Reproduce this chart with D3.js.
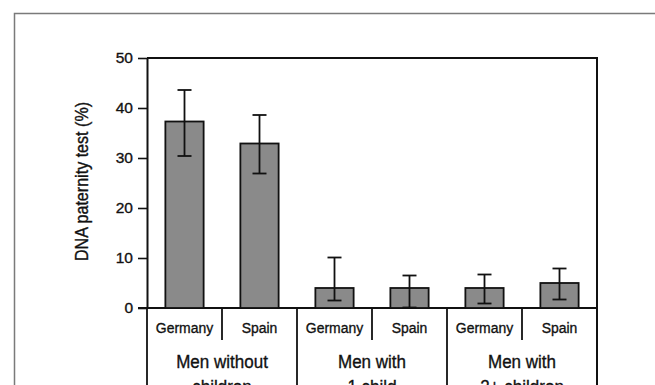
<!DOCTYPE html>
<html>
<head>
<meta charset="utf-8">
<script src="https://cdn.jsdelivr.net/npm/d3@7"></script>
<style>
  html, body { margin: 0; padding: 0; background: #fff; }
  svg { display: block; }
  text { font-family: "Liberation Sans", Arial, sans-serif; fill: #111; stroke: #111; stroke-width: 0.35px; }
</style>
</head>
<body>
<svg id="chart" width="655" height="385"></svg>
<script>
// Groups of men and the countries within each group
const groups = [["Men without", "children"], ["Men with", "1 child"], ["Men with", "2+ children"]];
const countries = ["Germany", "Spain"];

// Percentage requesting a DNA paternity test, with error bar bounds
const means = [37.3, 32.9, 4.0, 4.0, 4.0, 5.0];
const upper = [43.6, 38.6, 10.1, 6.5, 6.7, 7.9];
const lower = [30.4, 26.9, 1.5, 0.1, 0.9, 1.7];

const yTicks = [0, 10, 20, 30, 40, 50];

const rows = [];
groups.forEach((g, gi) => countries.forEach((c, ci) => {
  const i = gi * countries.length + ci;
  rows.push({ key: i, group: gi, country: c, value: means[i], hi: upper[i], lo: lower[i] });
}));

const svg = d3.select("#chart");
const plot = { left: 147, right: 597, top: 58, bottom: 308 };

// Outer frame
svg.append("path")
  .attr("d", `M14.5,385 V13.5 H655`)
  .attr("fill", "none").attr("stroke", "#7a7a7a").attr("stroke-width", 1.5);

const x = d3.scaleBand()
  .domain(rows.map(d => d.key))
  .range([plot.left, plot.right])
  .paddingInner(0.49).paddingOuter(0.245);

const slot = d3.scaleBand()
  .domain(rows.map(d => d.key))
  .range([plot.left, plot.right]);

const y = d3.scaleLinear().domain([0, 50]).range([plot.bottom, plot.top]);

// Narrow-looking text: Liberation Sans squeezed along its baseline
function label(parent, tx, ty, str, size, squeeze, rotate) {
  return parent.append("text")
    .attr("transform", `translate(${tx},${ty})${rotate ? ` rotate(${rotate})` : ""} scale(${squeeze},1)`)
    .attr("text-anchor", "middle")
    .attr("font-size", size)
    .text(str);
}

// Y axis
const yAxis = svg.append("g")
  .attr("transform", `translate(${plot.left},0)`)
  .call(d3.axisLeft(y).tickValues(yTicks).tickSize(9).tickPadding(5).tickSizeOuter(0));
yAxis.select(".domain").attr("stroke", "#111").attr("stroke-width", 2);
yAxis.selectAll(".tick line").attr("stroke", "#111").attr("stroke-width", 1.6);
yAxis.selectAll(".tick text").attr("font-size", 15.5)
  .style("font-family", "'Liberation Sans', Arial, sans-serif")
  .attr("fill", "#111");

// Top and right borders of the plot box, extended down through the label area
svg.append("path")
  .attr("d", `M${plot.left},${y(50)} H${plot.right} V385`)
  .attr("fill", "none").attr("stroke", "#111").attr("stroke-width", 2);
svg.append("line")
  .attr("x1", plot.left - 9).attr("x2", plot.right)
  .attr("y1", y(0)).attr("y2", y(0))
  .attr("stroke", "#111").attr("stroke-width", 2);

// Bars
svg.append("g").selectAll("rect").data(rows).join("rect")
  .attr("x", d => x(d.key))
  .attr("width", x.bandwidth())
  .attr("y", d => y(d.value))
  .attr("height", d => y(0) - y(d.value))
  .attr("fill", "#8a8a8a")
  .attr("stroke", "#111").attr("stroke-width", 1.8);

// Error bars
const capW = 14;
const eb = svg.append("g").attr("stroke", "#111").attr("stroke-width", 1.8);
rows.forEach(d => {
  const cx = x(d.key) + x.bandwidth() / 2;
  eb.append("line").attr("x1", cx).attr("x2", cx).attr("y1", y(d.hi)).attr("y2", y(d.lo));
  eb.append("line").attr("x1", cx - capW / 2).attr("x2", cx + capW / 2).attr("y1", y(d.hi)).attr("y2", y(d.hi));
  eb.append("line").attr("x1", cx - capW / 2).attr("x2", cx + capW / 2).attr("y1", y(d.lo)).attr("y2", y(d.lo));
});

// Category dividers below the axis
const dividers = svg.append("g").attr("stroke", "#111").attr("stroke-width", 1.8);
rows.forEach(d => {
  const left = slot(d.key);
  if (d.key % countries.length === 0) {
    if (d.key > 0) dividers.append("line").attr("x1", left).attr("x2", left).attr("y1", y(0)).attr("y2", 385);
  } else {
    dividers.append("line").attr("x1", left).attr("x2", left).attr("y1", y(0)).attr("y2", 340);
  }
});
dividers.append("line").attr("x1", plot.left).attr("x2", plot.left).attr("y1", y(0)).attr("y2", 385);

// Country labels
const countryG = svg.append("g");
rows.forEach(d => label(countryG, slot(d.key) + slot.bandwidth() / 2, 333, d.country, 15.5, 0.9));

// Group labels (second line runs past the bottom edge)
const groupG = svg.append("g");
groups.forEach((g, gi) => {
  const cx = slot(gi * 2) + slot.bandwidth();
  g.forEach((line, li) => label(groupG, cx, 368 + li * 25, line, 18.5, 0.92));
});

// Y axis title
label(svg, 88, (y(0) + y(50)) / 2 - 1.5, "DNA paternity test (%)", 17.5, 0.92, -90);
</script>
</body>
</html>
